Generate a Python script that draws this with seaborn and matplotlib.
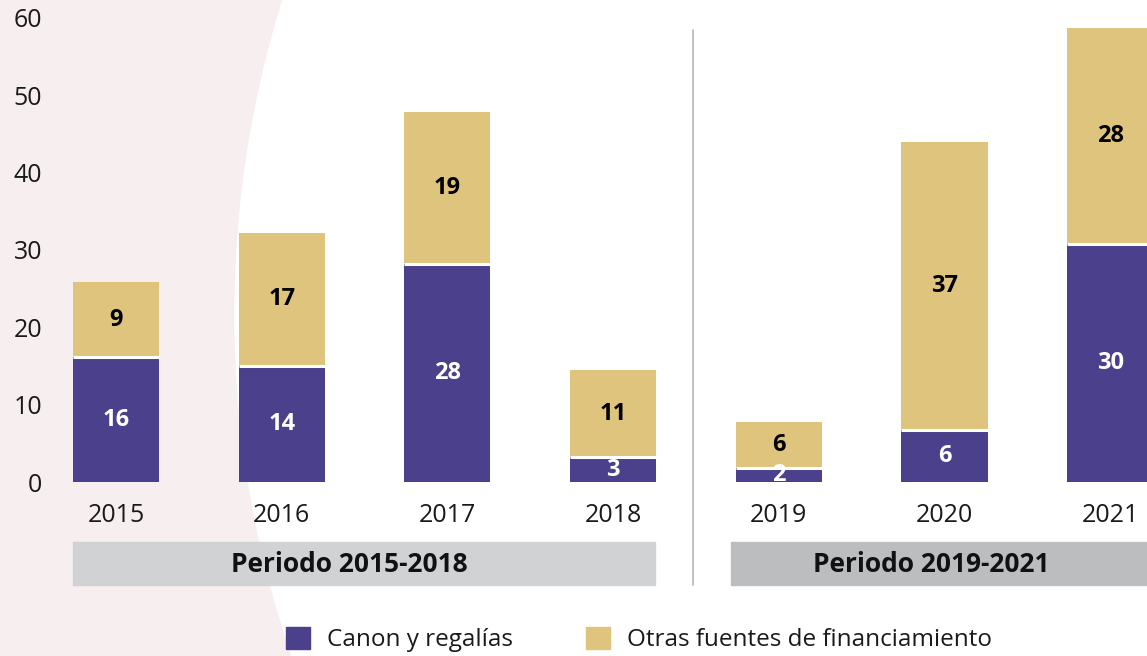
import numpy as np
import pandas as pd
import matplotlib.pyplot as plt
import seaborn as sns
from matplotlib.patches import Rectangle, Circle, Patch

# Data (millones)
years = ['2015', '2016', '2017', '2018', '2019', '2020', '2021']
canon = [16.1, 15.0, 28.2, 3.2, 1.8, 6.7, 30.7]
otras = [9.8, 17.2, 19.6, 11.3, 6.0, 37.2, 28.0]
canon_labels = ['16', '14', '28', '3', '2', '6', '30']
otras_labels = ['9', '17', '19', '11', '6', '37', '28']
periods = ['Periodo 2015-2018', 'Periodo 2019-2021']

purple = '#4b408c'
gold = '#dec47d'
pink = '#f7eef0'
bar_w = 0.52

df = pd.DataFrame({'Year': years, 'Canon': canon, 'Otras': otras})
df['Total'] = df['Canon'] + df['Otras']

sns.set_style('white')
plt.rcParams['font.family'] = ['Open Sans', 'DejaVu Sans']

fig = plt.figure(figsize=(11.47, 6.56), dpi=100)

# background: pink with a big white circle on the right
bg = fig.add_axes([0, 0, 1, 1], zorder=0)
bg.set_xlim(0, 1147)
bg.set_ylim(656, 0)
bg.axis('off')
bg.add_patch(Rectangle((0, 0), 1147, 656, color=pink))
bg.add_patch(Circle((1286, 314), 1051, color='white'))

ax = fig.add_axes([60 / 1147, 174 / 656, 1 - 60 / 1147, 482 / 656], zorder=1)
ax.patch.set_alpha(0)

sns.barplot(data=df, x='Year', y='Total', color=gold, saturation=1, width=bar_w,
            linewidth=0, ax=ax)
sns.barplot(data=df, x='Year', y='Canon', color=purple, saturation=1, width=bar_w,
            linewidth=0, ax=ax)

# thin white gap between the two segments
xs = np.arange(len(years))
ax.hlines(canon, xs - bar_w / 2, xs + bar_w / 2, color='white', lw=2.2)

for i in range(len(years)):
    ax.text(i, canon[i] / 2, canon_labels[i], ha='center', va='center',
            color='white', fontsize=17, fontweight='bold')
    ax.text(i, canon[i] + otras[i] / 2, otras_labels[i], ha='center', va='center',
            color='black', fontsize=17, fontweight='bold')

ax.set_xlim(-0.338, 6.222)
ax.set_ylim(0, 62.3)
ax.set_yticks(range(0, 61, 10))
ax.set_xlabel('')
ax.set_ylabel('')
sns.despine(ax=ax, left=True, bottom=True)
ax.tick_params(axis='both', length=0, labelsize=18, colors='#1a1a1a')
ax.tick_params(axis='y', pad=13)
ax.tick_params(axis='x', pad=15)

# divider between periods
ax.plot([3.48, 3.48], [58.4, -13.3], color='#b5b5b5', lw=1.2, clip_on=False)

# period boxes
tr = ax.get_xaxis_transform()
ax.add_patch(Rectangle((-0.26, -0.2137), 3.51, 0.0892, transform=tr,
                       color='#d1d2d4', clip_on=False))
ax.add_patch(Rectangle((3.71, -0.2137), 2.6, 0.0892, transform=tr,
                       color='#bcbdbf', clip_on=False))
ax.text(1.41, -0.171, periods[0], transform=tr, ha='center', va='center',
        fontsize=19, fontweight='bold', color='#111111')
ax.text(4.92, -0.171, periods[1], transform=tr, ha='center', va='center',
        fontsize=19, fontweight='bold', color='#111111')

handles = [Patch(color=purple, label='Canon y regalías'),
           Patch(color=gold, label='Otras fuentes de financiamiento')]
fig.legend(handles=handles, loc='center', bbox_to_anchor=(0.557, 0.025), ncol=2,
           frameon=False, fontsize=17.5, handlelength=1.0, handleheight=1.0,
           handletextpad=0.7, columnspacing=3.0, labelcolor='#1a1a1a')

fig.savefig('out.png', dpi=100)
